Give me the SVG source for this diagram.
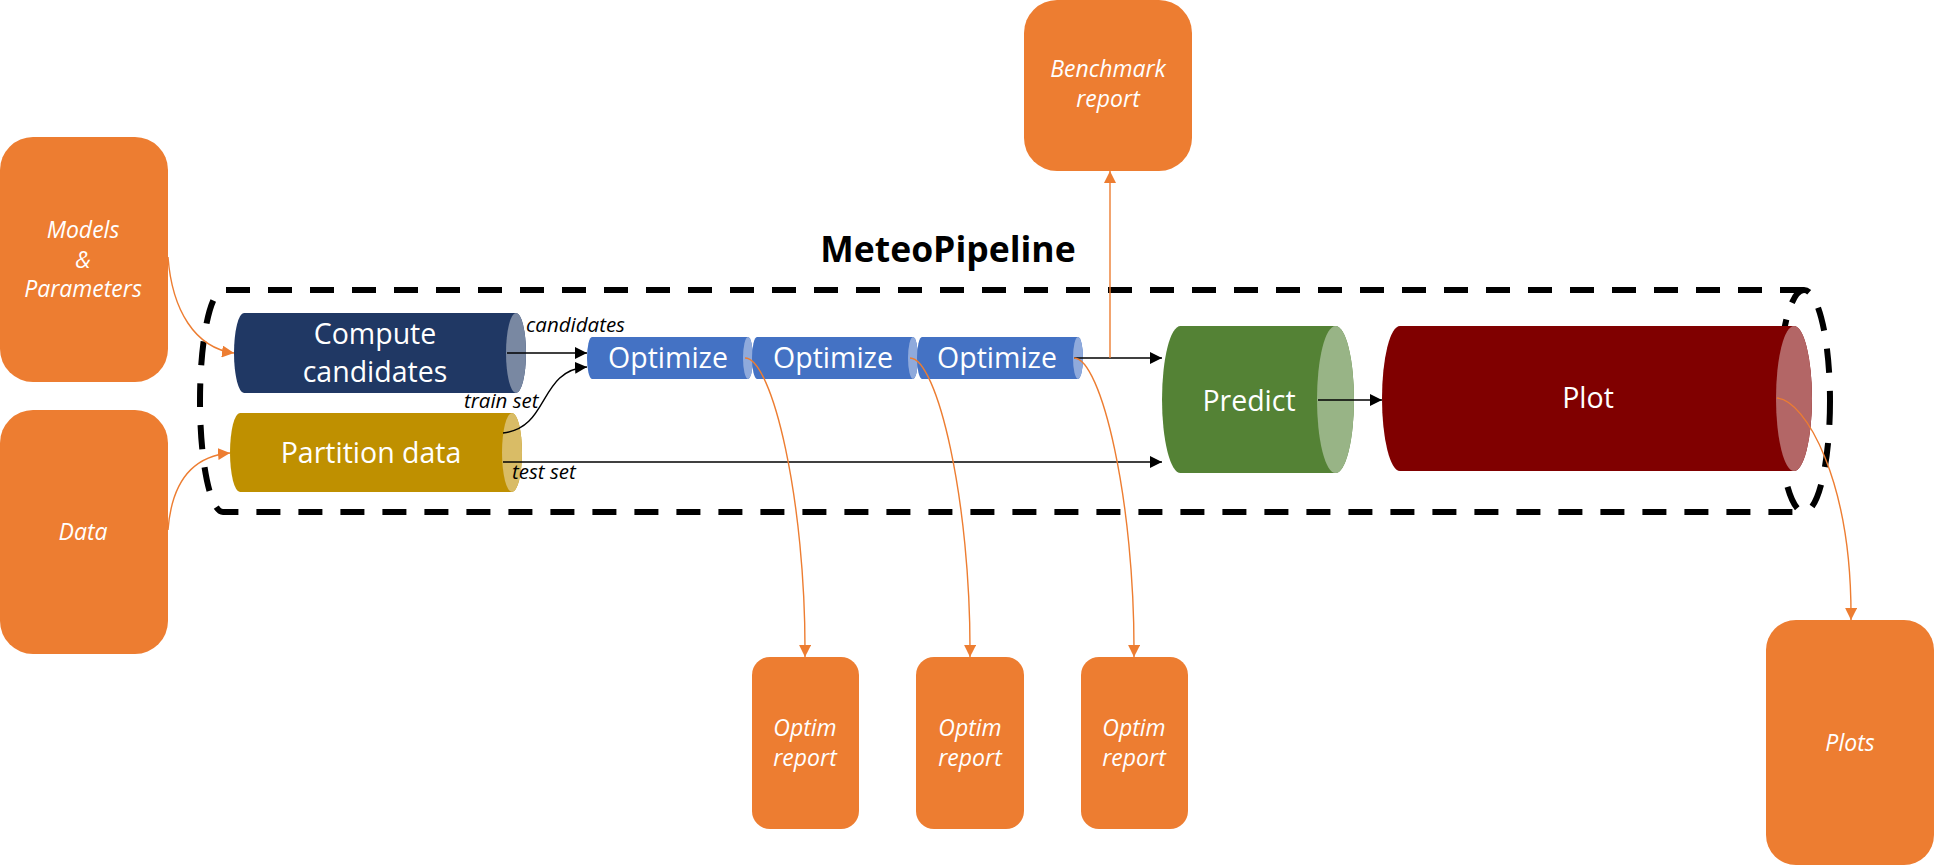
<svg xmlns="http://www.w3.org/2000/svg" width="1934" height="865" viewBox="0 0 1934 865">
<defs>
<style>
.box{fill:#ED7D31}
.bt{font-family:"Open Sans","Noto Sans",sans-serif;font-style:italic;font-size:23px;fill:#fff;text-anchor:middle}
.ct{font-family:"Open Sans","Noto Sans",sans-serif;font-size:28.5px;fill:#fff;text-anchor:middle}
.lbl{font-family:"Open Sans","Noto Sans",sans-serif;font-style:italic;font-size:20.5px;fill:#000}
.blk{fill:none;stroke:#000;stroke-width:1.4}
.org{fill:none;stroke:#ED7D31;stroke-width:1.4}
.dash{fill:none;stroke:#000;stroke-width:6;stroke-dasharray:24 18}
</style>
<marker id="ab" viewBox="0 0 12 12" refX="12" refY="6" markerWidth="12" markerHeight="12" markerUnits="userSpaceOnUse" orient="auto"><path d="M0,0 L12,6 L0,12 Z" fill="#000"/></marker>
<marker id="ao" viewBox="0 0 12 12" refX="12" refY="6" markerWidth="12" markerHeight="12" markerUnits="userSpaceOnUse" orient="auto"><path d="M0,0 L12,6 L0,12 Z" fill="#ED7D31"/></marker>
</defs>
<rect width="1934" height="865" fill="#fff"/>

<g id="pipeline-frame">
<path class="dash" d="M1804,290 L223,290 A23,111 0 0 0 223,512 L1804,512"/>
<ellipse class="dash" cx="1804" cy="401" rx="26" ry="111"/>
<text x="948" y="262" font-family="'Open Sans','Noto Sans',sans-serif" font-weight="bold" font-size="35.5" text-anchor="middle" fill="#000">MeteoPipeline</text>
</g>

<g id="models">
<rect class="box" x="0" y="137" width="168" height="245" rx="33"/>
<text class="bt" x="83" y="238">Models</text>
<text class="bt" x="83" y="268">&amp;</text>
<text class="bt" x="83" y="297">Parameters</text>
</g>
<g id="data">
<rect class="box" x="0" y="410" width="168" height="244" rx="33"/>
<text class="bt" x="83" y="540">Data</text>
</g>
<g id="benchmark">
<rect class="box" x="1024" y="0" width="168" height="171" rx="33"/>
<text class="bt" x="1108" y="77">Benchmark</text>
<text class="bt" x="1108" y="107">report</text>
</g>
<g id="optim1">
<rect class="box" x="752" y="657" width="107" height="172" rx="18"/>
<text class="bt" x="805" y="736">Optim</text>
<text class="bt" x="805" y="766">report</text>
</g>
<g id="optim2">
<rect class="box" x="916" y="657" width="108" height="172" rx="18"/>
<text class="bt" x="970" y="736">Optim</text>
<text class="bt" x="970" y="766">report</text>
</g>
<g id="optim3">
<rect class="box" x="1081" y="657" width="107" height="172" rx="18"/>
<text class="bt" x="1134" y="736">Optim</text>
<text class="bt" x="1134" y="766">report</text>
</g>
<g id="plots">
<rect class="box" x="1766" y="620" width="168" height="245" rx="30"/>
<text class="bt" x="1850" y="751">Plots</text>
</g>

<g id="compute">
<path d="M244,313 L516,313 A10,40 0 0 1 516,393 L244,393 A10,40 0 0 1 244,313 Z" fill="#203864"/>
<ellipse cx="516" cy="353" rx="10" ry="40" fill="#7988A2"/>
<text class="ct" x="375" y="344">Compute</text>
<text class="ct" x="375" y="382">candidates</text>
</g>
<g id="partition">
<path d="M240,413 L512,413 A10,39.5 0 0 1 512,492 L240,492 A10,39.5 0 0 1 240,413 Z" fill="#BF9000"/>
<ellipse cx="512" cy="452.5" rx="10" ry="39.5" fill="#D9BC66"/>
<text class="ct" x="371" y="463">Partition data</text>
</g>
<g id="optimize1">
<path d="M592,337 L748,337 A5,21 0 0 1 748,379 L592,379 A5,21 0 0 1 592,337 Z" fill="#4472C4"/>
<ellipse cx="748" cy="358" rx="5" ry="21" fill="#8FAADC"/>
<text class="ct" x="668" y="368">Optimize</text>
</g>
<g id="optimize2">
<path d="M757,337 L913,337 A5,21 0 0 1 913,379 L757,379 A5,21 0 0 1 757,337 Z" fill="#4472C4"/>
<ellipse cx="913" cy="358" rx="5" ry="21" fill="#8FAADC"/>
<text class="ct" x="833" y="368">Optimize</text>
</g>
<g id="optimize3">
<path d="M922,337 L1078,337 A5,21 0 0 1 1078,379 L922,379 A5,21 0 0 1 922,337 Z" fill="#4472C4"/>
<ellipse cx="1078" cy="358" rx="5" ry="21" fill="#8FAADC"/>
<text class="ct" x="997" y="368">Optimize</text>
</g>
<g id="predict">
<path d="M1180.5,326 L1335.5,326 A18.5,73.5 0 0 1 1335.5,473 L1180.5,473 A18.5,73.5 0 0 1 1180.5,326 Z" fill="#548235"/>
<ellipse cx="1335.5" cy="399.5" rx="18.5" ry="73.5" fill="#98B486"/>
<text class="ct" x="1249" y="411">Predict</text>
</g>
<g id="plot">
<path d="M1400,326 L1794,326 A18,72.5 0 0 1 1794,471 L1400,471 A18,72.5 0 0 1 1400,326 Z" fill="#800000"/>
<ellipse cx="1794" cy="398.5" rx="18" ry="72.5" fill="#B36666"/>
<text class="ct" x="1588" y="408">Plot</text>
</g>

<g id="connectors">
<path class="org" d="M168,257 C172,310 195,348 234,353" marker-end="url(#ao)"/>
<path class="org" d="M168,530 C172,478 195,456 230,453" marker-end="url(#ao)"/>
<path class="blk" d="M507,353 L587,353" marker-end="url(#ab)"/>
<path class="blk" d="M503,433 C550,428 538,370 587,367" marker-end="url(#ab)"/>
<path class="blk" d="M503,462 L1162,462" marker-end="url(#ab)"/>
<path class="blk" d="M1074,358 L1162,358" marker-end="url(#ab)"/>
<path class="blk" d="M1318,400 L1382,400" marker-end="url(#ab)"/>
<path class="org" d="M1110,358 L1110,171" marker-end="url(#ao)"/>
<path class="org" d="M745,358 C772,358 806,500 805,657" marker-end="url(#ao)"/>
<path class="org" d="M910,358 C937,358 971,500 970,657" marker-end="url(#ao)"/>
<path class="org" d="M1074,358 C1101,358 1135,500 1134,657" marker-end="url(#ao)"/>
<path class="org" d="M1777,398 C1805,400 1852,480 1851,620" marker-end="url(#ao)"/>
<text class="lbl" x="526" y="332">candidates</text>
<text class="lbl" x="464" y="408">train set</text>
<text class="lbl" x="512" y="479">test set</text>
</g>
</svg>
